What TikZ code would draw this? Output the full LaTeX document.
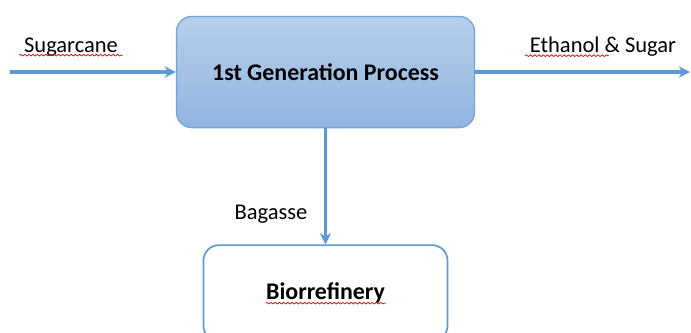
\documentclass[tikz,border=0pt]{standalone}
\usepackage{fontspec}
\setmainfont{Carlito}
\usepackage{xcolor}
\usetikzlibrary{arrows.meta,positioning,decorations.pathmorphing}

\definecolor{flowblue}{HTML}{5B9BD5}
\definecolor{boxtop}{HTML}{B6CFEB}
\definecolor{boxbot}{HTML}{92B5E1}
\definecolor{boxline}{HTML}{72A2D8}

\begin{document}
\begin{tikzpicture}[x=0.025cm,y=-0.025cm,
  every node/.style={font=\fontsize{16}{19}\selectfont},
  flow/.style={draw=flowblue,line width=2.3pt,-{Stealth[length=8pt,width=8pt]}},
  spell/.style={draw=red!85!black,line width=0.5pt,decorate,
    decoration={snake,amplitude=0.6pt,segment length=3pt}}
]
\useasboundingbox (0,0) rectangle (691,332);

\tikzset{process/.style={rectangle,rounded corners=11pt,draw=boxline,line width=0.9pt,
  top color=boxtop,bottom color=boxbot,minimum width=7.45cm,minimum height=2.78cm,
  font=\fontsize{17}{20}\selectfont\bfseries}}
\tikzset{refinery/.style={rectangle,rounded corners=11pt,draw=flowblue,line width=1.2pt,
  fill=white,minimum width=6.1cm,minimum height=2.4cm,
  font=\fontsize{17}{20}\selectfont\bfseries}}

\node[process]                         (gen) at (325.5,72) {1st Generation Process};
\node[refinery,below=2.9cm of gen.south,anchor=north] (bio) {Biorrefinery};

\coordinate (in)  at (10,72);
\coordinate (out) at (690,72);

\node (sug) at (71,47)  {Sugarcane};
\node (eth) at (603,47) {Ethanol \& Sugar};
\node (bag) at (271,214) {Bagasse};

\draw[flow] (in) -- (gen);
\draw[flow] (gen) -- (out);
\draw[flow] (gen) -- (bio);

% spell check marks
\draw[spell] ([yshift=-2pt]sug.base west) -- ([yshift=-2pt]sug.base east);
\draw[spell] ([yshift=-2pt]eth.base west) -- ([yshift=-2pt,xshift=-1.8cm]eth.base east);
\draw[spell] ([yshift=-2.5pt,xshift=-1.5cm]bio.base) -- ([yshift=-2.5pt,xshift=1.5cm]bio.base);

\end{tikzpicture}
\end{document}
